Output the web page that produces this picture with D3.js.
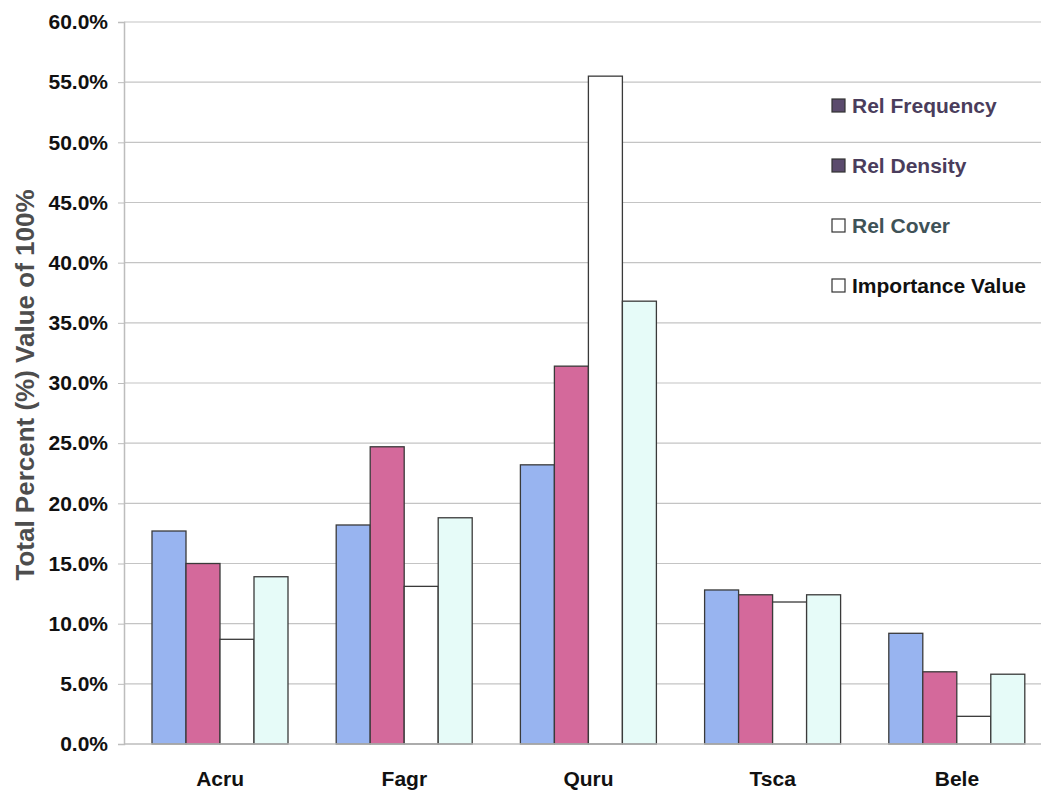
<!DOCTYPE html>
<html><head><meta charset="utf-8">
<script src="https://cdn.jsdelivr.net/npm/d3@7"></script>
<style>body{margin:0;background:#fff}svg{display:block}text{font-family:"Liberation Sans",Arial,sans-serif;font-weight:bold}</style>
</head><body>
<svg id="c" width="1041" height="791"></svg>
<script>
const categories = ["Acru","Fagr","Quru","Tsca","Bele"];
const seriesNames = ["Rel Frequency","Rel Density","Rel Cover","Importance Value"];
const relFrequency = [17.7, 18.2, 23.2, 12.8, 9.2];
const relDensity   = [15.0, 24.7, 31.4, 12.4, 6.0];
const relCover     = [8.7, 13.1, 55.5, 11.8, 2.3];
const importance   = [13.9, 18.8, 36.8, 12.4, 5.8];
const yTicks = [0,5,10,15,20,25,30,35,40,45,50,55,60];
const barColors = ["#98b4f0","#d4699b","#ffffff","#e6fbf8"];
const legendFill = ["#5b4b6d","#5b4b6d","#ffffff","#ffffff"];
const legendText = ["#4a3d5c","#4a3d5c","#3f5257","#111111"];

const seriesValues = [relFrequency, relDensity, relCover, importance];
const svg = d3.select("#c");
const x0 = d3.scaleBand().domain(categories).range([128, 1049]).padding(0);
const x1 = d3.scaleBand().domain(seriesNames).range([24, 160]).padding(0);
const y = d3.scaleLinear().domain([0, 60]).range([744, 22]);
const left = 124, right = 1041;
const FONT = '"Liberation Sans",Arial,sans-serif';

// gridlines
svg.append("g").selectAll("line").data(yTicks.filter(t => t > 0)).join("line")
  .attr("x1", left).attr("x2", right)
  .attr("y1", d => y(d)).attr("y2", d => y(d))
  .attr("stroke", "#c4c4c4").attr("stroke-width", 1.2);

// bars
const g = svg.append("g").selectAll("g").data(categories).join("g")
  .attr("transform", d => `translate(${x0(d)},0)`);
g.selectAll("rect").data((c, i) => seriesNames.map((s, j) => ({s, j, v: seriesValues[j][i]}))).join("rect")
  .attr("x", d => x1(d.s)).attr("width", x1.bandwidth())
  .attr("y", d => y(d.v)).attr("height", d => y(0) - y(d.v))
  .attr("fill", d => barColors[d.j])
  .attr("stroke", "#3a3a3a").attr("stroke-width", 1.3);

// y axis
const yAxis = d3.axisLeft(y).tickValues(yTicks).tickSize(6).tickPadding(10)
  .tickFormat(d => d.toFixed(1) + "%");
const ya = svg.append("g").attr("transform", `translate(${left},0)`).call(yAxis);
ya.select(".domain").attr("stroke", "#bdbdbd").attr("stroke-width", 1.5);
ya.selectAll(".tick line").attr("stroke", "#bdbdbd");
ya.selectAll(".tick text").attr("font-size", 21).attr("fill", "#111")
  .attr("font-family", FONT).attr("font-weight", "bold");

// baseline
svg.append("line").attr("x1", left).attr("x2", right).attr("y1", y(0)).attr("y2", y(0))
  .attr("stroke", "#bdbdbd").attr("stroke-width", 1.5);

// x axis labels
const xa = svg.append("g").attr("transform", `translate(0,${y(0)})`)
  .call(d3.axisBottom(x0).tickSize(0).tickPadding(27));
xa.select(".domain").remove();
xa.selectAll(".tick text").attr("font-size", 21).attr("fill", "#111")
  .attr("font-family", FONT).attr("font-weight", "bold");

// y title
svg.append("text").attr("transform", "translate(34,385) rotate(-90)")
  .attr("text-anchor", "middle").attr("font-size", 26).attr("fill", "#4d4d4d")
  .text("Total Percent (%) Value of 100%");

// legend
const lg = svg.append("g").selectAll("g").data(seriesNames).join("g")
  .attr("transform", (d, i) => `translate(832,${113 + i * 60})`);
lg.append("rect").attr("x", 0).attr("y", -14).attr("width", 13).attr("height", 13)
  .attr("fill", (d, i) => legendFill[i]).attr("stroke", "#333").attr("stroke-width", 1.2);
lg.append("text").attr("x", 20).attr("y", 0).attr("font-size", 21)
  .attr("fill", (d, i) => legendText[i]).text(d => d);
</script>
</body></html>
